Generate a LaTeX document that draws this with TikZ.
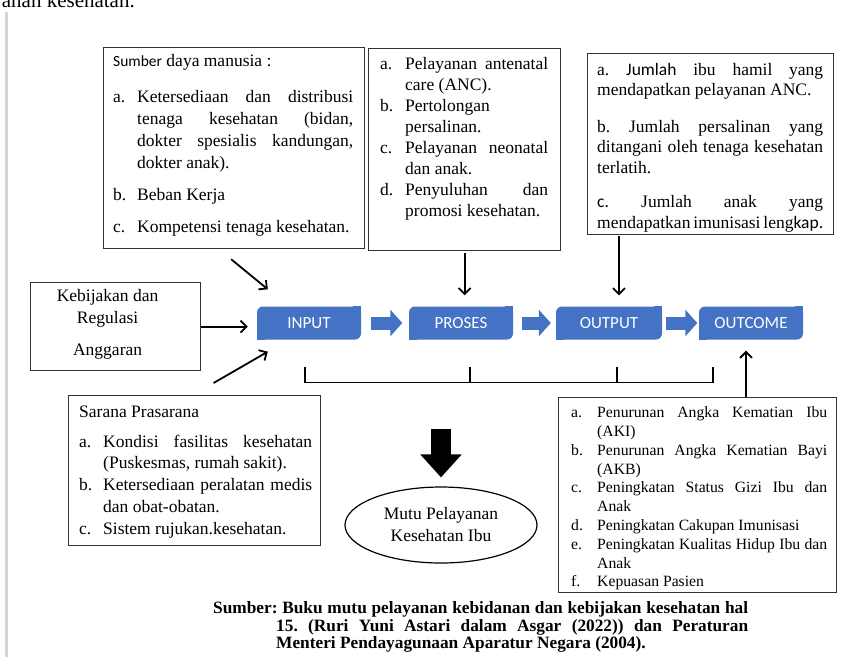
\documentclass[tikz,border=0pt]{standalone}
\usepackage{fontspec}
\setmainfont{Liberation Serif}
\newfontfamily\calib{Carlito}
\usepackage{tikz}
\usetikzlibrary{arrows.meta,shapes.geometric,calc}
\definecolor{blokblue}{HTML}{4472C4}
\definecolor{pagebar}{HTML}{D6D6CE}
\hyphenpenalty=10000
\exhyphenpenalty=10000
\parindent=0pt
\frenchspacing
\newcommand{\litem}[2][24pt]{\hangindent=#1\hangafter=1\makebox[#1][l]{#2}\ignorespaces}

\begin{document}
\begin{tikzpicture}[x=1pt,y=-1pt,
  frame/.style={draw=black!80,line width=1.2pt,anchor=north west,inner sep=0pt},
  txt/.style={inner sep=0pt,anchor=north west,align=justify,font=\fontsize{17.5}{22}\selectfont},
  blok/.style={fill=blokblue,rounded corners=6pt,minimum width=104pt,minimum height=33pt,text=white,font=\calib\fontsize{17}{18}\selectfont},
  arr/.style={line width=1.8pt,-{Straight Barb[length=6pt,width=12pt]}},
  blokarr/.style={color=blokblue,line width=13pt,-{Triangle[length=12pt,width=26pt]}}]
\useasboundingbox (0,0) rectangle (851,657);
\clip (0,0) rectangle (851,657);
\fill[pagebar] (5,12) rectangle (8,657);
\node[anchor=base east,inner sep=0pt,font=\fontsize{21}{24}\selectfont] (prev) at (135,7) {anan kesehatan.};

\node[frame,minimum width=261pt,minimum height=201pt] (sdm) at (103,47) {};
\node[frame,minimum width=192pt,minimum height=202pt] (kegiatan) at (368,48) {};
\node[frame,minimum width=246pt,minimum height=181pt] (hasil) at (587,53) {};
\node[frame,minimum width=170pt,minimum height=88pt] (keb) at (30,282) {};
\node[frame,minimum width=252pt,minimum height=150pt] (sar) at (68,395) {};
\node[frame,minimum width=278pt,minimum height=195pt] (dampak) at (558,397) {};

\node[txt,text width=240pt] (sdmtxt) at ($(sdm.north west)+(10,7)$) {{\calib\fontsize{15.5}{22}\selectfont Sumber} daya manusia :\par\vspace{14pt}
\litem{a.}Ketersediaan dan distribusi\linebreak tenaga kesehatan (bidan,\linebreak dokter spesialis kandungan,\linebreak dokter anak).\par\vspace{10pt}
\litem{b.}Beban Kerja\par\vspace{10pt}
\litem{c.}Kompetensi tenaga kesehatan.\par};
\node[txt,text width=168pt,font=\fontsize{17.5}{21}\selectfont] (kegtxt) at ($(kegiatan.north west)+(12,9)$) {\litem[25pt]{a.}Pelayanan antenatal\linebreak care (ANC).\par
\litem[25pt]{b.}Pertolongan\newline persalinan.\par
\litem[25pt]{c.}Pelayanan neonatal\linebreak dan anak.\par
\litem[25pt]{d.}Penyuluhan dan\linebreak promosi kesehatan.\par};
\node[txt,text width=226pt,font=\fontsize{17.5}{20.5}\selectfont] (hasiltxt) at ($(hasil.north west)+(10,10)$) {a. {\calib Jumlah} ibu hamil yang\linebreak mendapatkan pelayanan ANC.\par\vspace{16pt}
b. Jumlah persalinan yang\linebreak ditangani oleh tenaga kesehatan\linebreak terlatih.\par\vspace{14pt}
{\calib c.} Jumlah anak yang\linebreak mendapatkan imunisasi leng{\calib kap.}\par};
\node[txt,anchor=north,align=center] (kebtxt) at ($(keb.north)+(-8,7)$) {Kebijakan dan\\Regulasi\\[10pt]Anggaran};
\node[txt,text width=233pt,font=\fontsize{17.5}{21.75}\selectfont] (sartxt) at ($(sar.north west)+(11,11)$) {Sarana Prasarana\par\vspace{7.5pt}
\litem{a.}Kondisi fasilitas kesehatan\linebreak (Puskesmas, rumah sakit).\par
\litem{b.}Ketersediaan peralatan medis\linebreak dan obat-obatan.\par
\litem{c.}Sistem rujukan.kesehatan.\par};
\node[txt,text width=256pt,font=\fontsize{15.7}{18.8}\selectfont] (dampaktxt) at ($(dampak.north west)+(13,9.5)$) {\litem[26pt]{a.}Penurunan Angka Kematian Ibu\linebreak (AKI)\par
\litem[26pt]{b.}Penurunan Angka Kematian Bayi\linebreak (AKB)\par
\litem[26pt]{c.}Peningkatan Status Gizi Ibu dan\linebreak Anak\par
\litem[26pt]{d.}Peningkatan Cakupan Imunisasi\par
\litem[26pt]{e.}Peningkatan Kualitas Hidup Ibu dan\linebreak Anak\par
\litem[26pt]{f.}Kepuasan Pasien\par};

\node[blok] (inp) at (309,323) {INPUT};
\node[blok] (pro) at (461,323) {PROSES};
\node[blok,minimum width=106pt] (out) at (609,323) {OUTPUT};
\node[blok] (ocm) at (751,323) {OUTCOME};
\foreach \b in {inp,pro,out,ocm}{
  \fill[blokblue] (\b.north east) rectangle ++(-8,8);
  \fill[blokblue] (\b.south west) rectangle ++(8,-8);
}
\node[ellipse,draw,line width=1.2pt,minimum width=192pt,minimum height=76pt,align=center,font=\fontsize{17.5}{22}\selectfont] (mutu) at (441,525) {Mutu Pelayanan\\Kesehatan Ibu};

\draw[blokarr,shorten <=10pt,shorten >=6.5pt]  (inp) edge (pro);
\draw[blokarr,shorten <=8.5pt,shorten >=5pt]  (pro) edge (out);
\draw[blokarr,shorten <=4pt,shorten >=1.5pt]  (out) edge (ocm);
\draw[arr]  ($(sdm.south)+(-3,10)$) -- ($(inp.north west)+(11,-17)$);
\draw[arr,shorten >=9pt]  (keb.east) -- (keb.east -| inp.west);
\draw[arr]  ($(sar.north)+(19,-12)$) -- ($(inp.south west)+(11,12)$);
\draw[arr,shorten <=2pt,shorten >=11pt]  (kegiatan.south) -- (kegiatan.south |- pro.north);
\draw[arr,shorten <=1pt,shorten >=11pt]  ([xshift=10pt]out.north |- hasil.south) -- ([xshift=10pt]out.north);
\draw[arr,shorten >=11pt]  ([xshift=-5pt]ocm.south |- dampak.north) -- ([xshift=-5pt]ocm.south);
\draw[line width=1.1pt]  ($(inp.south)+(-4,27)$) -- ($(inp.south)+(-4,43)$) -- ($(ocm.south)+(-38,43)$) -- ($(ocm.south)+(-38,27)$);
\draw[line width=1.1pt]  ($(pro.south)+(9,27)$) -- ++(0,16);
\draw[line width=1.1pt]  ($(out.south)+(8,27)$) -- ++(0,16);
\draw[line width=20pt,-{Triangle[length=23pt,width=40pt]}]  ($(mutu.north)+(0,-57)$) -- ($(mutu.north)+(0,-9)$);

\node[txt,text width=535pt,font=\bfseries\fontsize{17.3}{17.5}\selectfont] (src) at (213,601.5) {\hangindent=63pt\hangafter=1 Sumber: Buku mutu pelayanan kebidanan dan kebijakan kesehatan hal\linebreak 15. (Ruri Yuni Astari dalam Asgar (2022)) dan Peraturan\linebreak Menteri Pendayagunaan Aparatur Negara (2004).\par};
\end{tikzpicture}
\end{document}
